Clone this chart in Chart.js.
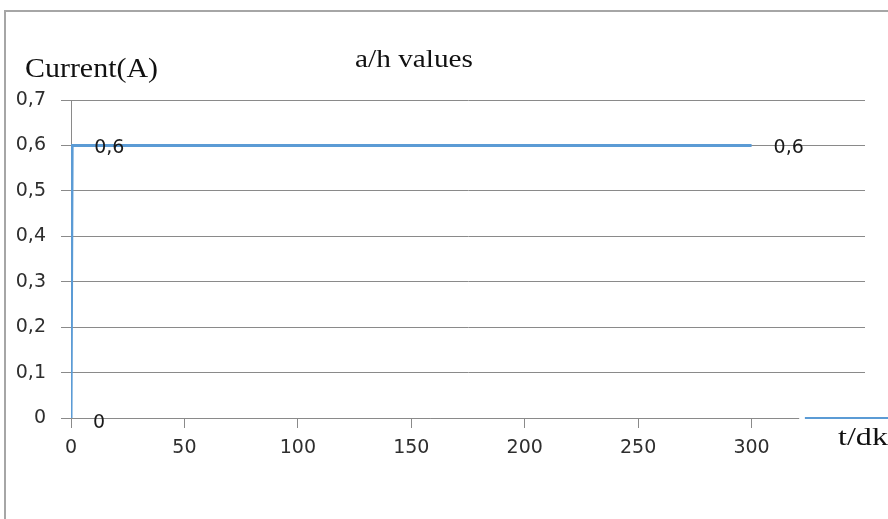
<!DOCTYPE html>
<html>
<head>
<meta charset="utf-8">
<script src="https://cdn.jsdelivr.net/npm/chart.js@4.4.1/dist/chart.umd.min.js"></script>
<style>
  html, body { margin: 0; padding: 0; background: #ffffff; }
  #wrap { width: 888px; height: 519px; position: relative; }
</style>
</head>
<body>
<div id="wrap"><canvas id="c" width="888" height="519"></canvas></div>
<script>
// Measured current (A) over time (t/dk)
const times = [0, 0.5, 300];
const current = [0, 0.6, 0.6];
const valueLabels = ['0', '0,6', '0,6'];
const yTickLabels = ['0', '0,1', '0,2', '0,3', '0,4', '0,5', '0,6', '0,7'];
const xTickLabels = ['0', '50', '100', '150', '200', '250', '300'];

const chartTitle = 'a/h values';
const yTitle = 'Current(A)';
const xTitle = 't/dk';

const LINE_BLUE = '#5b9bd5';
const GRID = '#8a8a8a';
const TICK_TEXT = '#2e2e2e';

// Draws serif text squeezed/stretched horizontally to a given width
function drawScaledText(ctx, text, x, y, width, size) {
  ctx.save();
  ctx.font = size + 'px "Liberation Serif", serif';
  ctx.fillStyle = '#111111';
  ctx.textBaseline = 'alphabetic';
  ctx.textAlign = 'left';
  const w = ctx.measureText(text).width;
  ctx.translate(x, y);
  ctx.scale(width / w, 1);
  ctx.fillText(text, 0, 0);
  ctx.restore();
}

const decorations = {
  id: 'decorations',
  beforeDraw(chart) {
    const ctx = chart.ctx;
    ctx.save();
    ctx.fillStyle = '#ffffff';
    ctx.fillRect(0, 0, chart.width, chart.height);
    // outer frame
    ctx.strokeStyle = '#a6a6a6';
    ctx.lineWidth = 2;
    ctx.strokeRect(5, 11, chart.width + 20, chart.height + 20);
    ctx.restore();
  },
  afterDatasetsDraw(chart) {
    const ctx = chart.ctx;
    const xs = chart.scales.x, ys = chart.scales.y;
    const y0 = ys.getPixelForValue(0);
    ctx.save();
    // horizontal axis line, broken before the time label
    ctx.strokeStyle = GRID;
    ctx.lineWidth = 1;
    ctx.beginPath();
    ctx.moveTo(xs.left - 10, y0 + 0.5);
    ctx.lineTo(xs.getPixelForValue(321), y0 + 0.5);
    ctx.stroke();
    ctx.strokeStyle = LINE_BLUE;
    ctx.lineWidth = 2;
    ctx.beginPath();
    ctx.moveTo(xs.getPixelForValue(323.5), y0);
    ctx.lineTo(chart.width, y0);
    ctx.stroke();
    ctx.restore();

    // point value labels
    const meta = chart.getDatasetMeta(0);
    ctx.save();
    ctx.font = '19px "DejaVu Sans", sans-serif';
    ctx.fillStyle = '#1a1a1a';
    ctx.textBaseline = 'middle';
    ctx.textAlign = 'left';
    meta.data.forEach((pt, i) => {
      ctx.fillText(valueLabels[i], pt.x + 22, pt.y + (i === 0 ? 5 : 3));
    });
    ctx.restore();

    // titles
    drawScaledText(ctx, chartTitle, 355, 67, 118, 25);
    drawScaledText(ctx, yTitle, 25, 77, 133, 27);
    drawScaledText(ctx, xTitle, 838, 445, 50, 25);
  }
};

new Chart(document.getElementById('c'), {
  type: 'line',
  data: {
    datasets: [{
      data: times.map((t, i) => ({ x: t, y: current[i] })),
      borderColor: LINE_BLUE,
      borderWidth: 3,
      pointRadius: 0,
      tension: 0,
      fill: false
    }]
  },
  options: {
    responsive: false,
    animation: false,
    devicePixelRatio: 1,
    layout: { padding: { top: 100, right: 23, left: 0, bottom: 0 } },
    plugins: {
      legend: { display: false },
      title: { display: false },
      tooltip: { enabled: false }
    },
    scales: {
      x: {
        type: 'linear',
        min: 0,
        max: 350,
        afterBuildTicks(scale) {
          scale.ticks = xTickLabels.map(s => ({ value: Number(s) }));
        },
        afterFit(scale) { scale.height = 101; },
        ticks: {
          callback: (v) => String(v),
          font: { family: 'DejaVu Sans', size: 19 },
          color: TICK_TEXT,
          padding: 9,
          maxRotation: 0
        },
        grid: {
          drawOnChartArea: false,
          drawTicks: true,
          tickLength: 10,
          tickColor: GRID,
          color: GRID
        },
        border: { display: false }
      },
      y: {
        type: 'linear',
        min: 0,
        max: 0.7,
        afterBuildTicks(scale) {
          scale.ticks = yTickLabels.map((s, i) => ({ value: i / 10 }));
        },
        afterFit(scale) { scale.width = 71; },
        ticks: {
          callback: (v) => yTickLabels[Math.round(v * 10)],
          font: { family: 'DejaVu Sans', size: 19 },
          color: TICK_TEXT,
          padding: 15
        },
        grid: {
          color: (c) => (c.tick && c.tick.value === 0 ? 'rgba(0,0,0,0)' : GRID),
          tickColor: GRID,
          tickLength: 10,
          lineWidth: 1
        },
        border: { display: true, color: GRID, width: 1 }
      }
    }
  },
  plugins: [decorations]
});
</script>
</body>
</html>
